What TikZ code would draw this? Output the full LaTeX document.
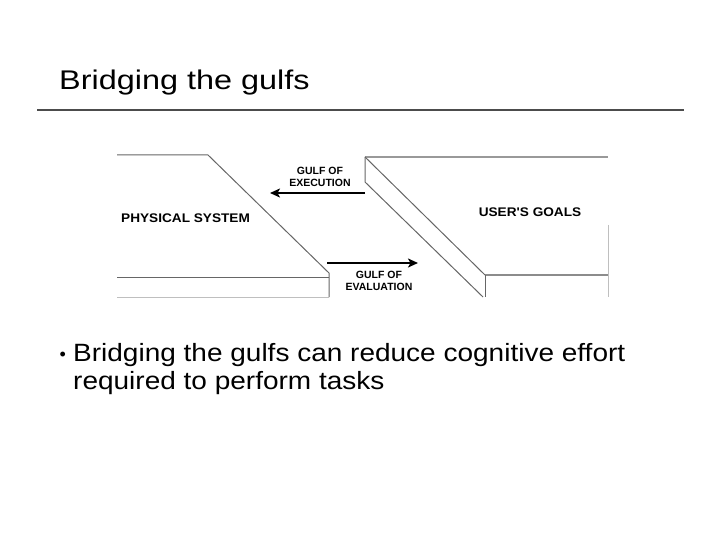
\documentclass[tikz,border=0pt]{standalone}
\usepackage{fontspec}
\setmainfont{Liberation Sans}
\newfontfamily\titlefont[FakeStretch=1.2]{Liberation Sans}
\newfontfamily\bodyfont[FakeStretch=1.12]{Liberation Sans}
\newfontfamily\labelfont[FakeStretch=1.09]{Liberation Sans}
\usetikzlibrary{arrows.meta}
\begin{document}
\begin{tikzpicture}[x=1pt,y=-1pt,
  edge/.style={draw=black!60, line width=1pt},
  faint/.style={draw=black!25, line width=0.8pt},
  topedge/.style={draw=black!40, line width=2.4pt},
  gulfarrow/.style={draw=black, line width=2pt, -{Stealth[length=10pt,width=9pt,inset=2.5pt]}},
  small/.style={font=\bfseries\fontsize{10.5}{12}\selectfont, inner sep=0, align=center},
  big/.style={font=\labelfont\bfseries\fontsize{12.5}{14}\selectfont, inner sep=0},
  bodytext/.style={anchor=base west, inner sep=0, font=\bodyfont\fontsize{25}{28}\selectfont}]
\useasboundingbox (0,0) rectangle (720,540);
% title
\node[anchor=base west, inner sep=0, font=\titlefont\fontsize{27}{30}\selectfont] (title) at (59,89.5) {Bridging the gulfs};
\coordinate (r1) at (37,110);
\coordinate (r2) at (684,110);
\draw[draw=black!70, line width=2pt] (r1) -- (r2);
% physical system block
\coordinate (p1) at (117,155);
\coordinate (p2) at (208,155);
\coordinate (p3) at (329,273);
\coordinate (p4) at (329,297);
\coordinate (p5) at (117,277);
\coordinate (p6) at (329,277);
\coordinate (p7) at (117,297);
\draw[edge] (p1) -- (p2) -- (p3) -- (p4);
\draw[edge] (p5) -- (p6);
\draw[faint] (p7) -- (p4);
% user's goals block
\coordinate (u1) at (365,157);
\coordinate (u2) at (608,157);
\coordinate (u3) at (365,182);
\coordinate (u4) at (483,297);
\coordinate (u5) at (485,275);
\coordinate (u6) at (608,275);
\coordinate (u7) at (485,297);
\coordinate (u8) at (608,225);
\coordinate (u9) at (608,297);
\draw[topedge] (u1) -- (u2);
\draw[edge] (u1) -- (u3) -- (u4);
\draw[edge] (u1) -- (u5);
\draw[draw=black!45, line width=1.6pt] (u5) -- (u6);
\draw[edge] (u5) -- (u7);
\draw[faint] (u8) -- (u9);
% labels
\node[big, anchor=west] (phys) at (121,218) {PHYSICAL SYSTEM};
\node[big] (goals) at (530,212) {USER{\char"27}S GOALS};
\node[small] (exec) at (320,177) {GULF OF\\EXECUTION};
\node[small] (eval) at (379,280.5) {GULF OF\\EVALUATION};
% arrows
\coordinate (ex1) at (365,193);
\coordinate (ex2) at (270,193);
\coordinate (ev1) at (327,263);
\coordinate (ev2) at (418,263);
\draw[gulfarrow] (ex1) -- (ex2);
\draw[gulfarrow] (ev1) -- (ev2);
% bullet text
\node[bodytext, font=\fontsize{18}{20}\selectfont] (bul) at (59.5,360) {•};
\node[bodytext] (line1) at (73,361) {Bridging the gulfs can reduce cognitive effort};
\node[bodytext] (line2) at (73,389) {required to perform tasks};
\end{tikzpicture}
\end{document}
